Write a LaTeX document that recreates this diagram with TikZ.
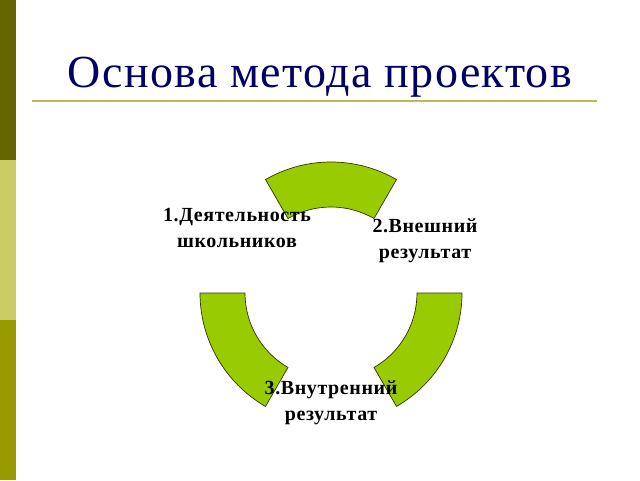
\documentclass[tikz,border=0pt]{standalone}
\usepackage{fontspec}
\setmainfont{Liberation Serif}
\usetikzlibrary{positioning}
\definecolor{oliveA}{HTML}{666600}
\definecolor{oliveB}{HTML}{CCCC66}
\definecolor{oliveC}{HTML}{999900}
\definecolor{rule}{HTML}{BBBB55}
\definecolor{navy}{HTML}{000066}
\definecolor{leaf}{HTML}{99CC00}
\definecolor{rim}{HTML}{333300}

\begin{document}
\begin{tikzpicture}[x=1pt,y=1pt,
    sector/.style={fill=leaf,draw=rim,line width=0.7pt},
    lbl/.style={font=\bfseries\fontsize{20}{26}\selectfont\addfontfeatures{LetterSpace=3},align=center,text=black}]
  \useasboundingbox (0,0) rectangle (640,480);
  % side bar
  \fill[oliveA] (0,320) rectangle (16,480);
  \fill[oliveB] (0,160) rectangle (16,320);
  \fill[oliveC] (0,0) rectangle (16,160);
  % title
  \node (title) [anchor=base,text=navy,font=\fontsize{46}{50}\selectfont\addfontfeatures{LetterSpace=3}] at (320,392) {Основа метода проектов};
  \draw[rule,line width=2pt] (32,379) -- (597,379);
  % three sectors
  \coordinate (c) at (331,187);
  \foreach \a in {60,180,300}
    \draw[sector] ([shift={(\a:131)}]c) arc[start angle=\a,delta angle=60,radius=131]
      -- ([shift={(\a+60:86)}]c) arc[start angle=\a+60,delta angle=-60,radius=86] -- cycle;
  % labels
  \node (act) [lbl] at (237,252) {1.Деятельность\\школьников};
  \node (ext) [lbl] at (425,239) {2.Внешний\\результат};
  \node (int) [lbl] at (331,77) {3.Внутренний\\результат};
\end{tikzpicture}
\end{document}
